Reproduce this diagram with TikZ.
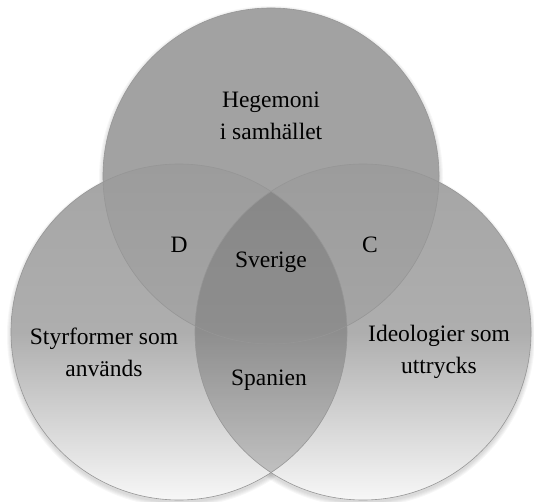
\documentclass[tikz,border=0pt]{standalone}
\usepackage{fontspec}
\setmainfont{Liberation Serif}
\definecolor{topgray}{RGB}{162,162,162}
\definecolor{upgray}{RGB}{165,165,165}
\definecolor{midgray}{RGB}{174,174,174}
\definecolor{lowgray}{RGB}{247,247,247}
\definecolor{rimgray}{RGB}{150,150,150}
\tikzset{
  ring/.style={draw=rimgray, line width=0.6pt},
  lbl/.style={font=\fontsize{23.5}{32}\selectfont, align=center, inner sep=0pt},
}
\begin{document}
\begin{tikzpicture}[x=1pt, y=1pt]
\useasboundingbox (0,0) rectangle (534,501);
% Shadows
\foreach \s in {1,...,5} {
  \fill[black, fill opacity=0.03] (271,323) circle ({167+\s});
  \fill[black, fill opacity=0.03] (179,166) circle ({167+\s});
  \fill[black, fill opacity=0.03] (363,166) circle ({167+\s});
}
% Hegemoni circle
\fill[topgray] (271,325) circle (168);
% Styrformer circle
\shade[top color=upgray, bottom color=lowgray, middle color=midgray] (179,169) circle (168);
% Ideologier circle
\shade[top color=upgray, bottom color=lowgray, middle color=midgray] (363,169) circle (168);
% Overlap with Hegemoni (D and C)
\begin{scope}
\clip (271,325) circle (168);
\fill[black, fill opacity=0.05, even odd rule] (179,169) circle (168) (363,169) circle (168);
\end{scope}
% Overlap Styrformer and Ideologier
\begin{scope}
\clip (179,169) circle (168);
\fill[black, fill opacity=0.18] (363,169) circle (168);
\end{scope}
% Rims
\draw[ring] (271,325) circle (168);
\draw[ring] (179,169) circle (168);
\draw[ring] (363,169) circle (168);
% Labels
\node[lbl] (hegemoni) at (271,385) {Hegemoni\\i samhället};
\node[lbl, anchor=base] (labD) at (179,249) {D};
\node[lbl, anchor=base] (labC) at (370,249) {C};
\node[lbl, anchor=base] (sverige) at (271,234) {Sverige};
\node[lbl] (styr) at (104,149) {Styrformer som\\används};
\node[lbl] (ideo) at (439,149) {Ideologier som\\uttrycks};
\node[lbl, anchor=base] (spanien) at (269,116) {Spanien};
\end{tikzpicture}
\end{document}
